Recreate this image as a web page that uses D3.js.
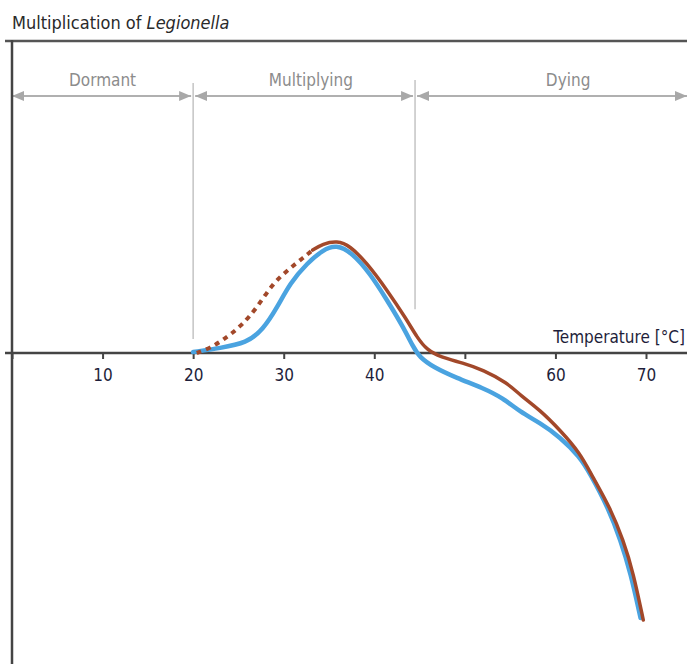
<!DOCTYPE html>
<meta charset="utf-8">

<head>
    <title>Multiplication of Legionella</title>
</head>

<style>
    body {
        margin: 0;
        background: #fff;
    }

    text {
        font-family: "DejaVu Sans Condensed", "Liberation Sans", sans-serif;
    }
</style>

<body>
    <div id="content">
        <svg width="687" height="664">
        </svg>
    </div>

    <script src="https://cdnjs.cloudflare.com/ajax/libs/d3/7.8.5/d3.min.js"></script>
    <script>
        var width = 687, height = 664

        // temperature ticks along the axis, the 50 label is left out in the original
        var tickValues = [0, 10, 20, 30, 40, 50, 60, 70]
        var tickLabels = ['', '10', '20', '30', '40', '', '60', '70']

        // phases: boundaries in °C, the names and where the names sit
        var phaseBounds = [0, 20, 44.5, 75]
        var phaseNames = ['Dormant', 'Multiplying', 'Dying']
        var phaseLabelT = [10, 33, 61.4]

        // blue curve (solid)
        var blueT = [20, 23, 25.9, 27.7, 29.3, 30.7, 32.6, 34.3, 35.8, 37.6, 39.5, 41.4, 43.2, 44.3, 45, 46.5, 49.1, 52, 54.2, 56.1, 58.3, 60.5, 62.7, 63.8, 65.8, 67.2, 68.3, 69.4]
        var blueV = [0.3, 1.6, 3.2, 7.4, 14.7, 22.4, 28.8, 33, 34.8, 32, 25.6, 17, 8.3, 1.9, -1.3, -4.5, -8, -11.2, -14.4, -18.9, -22.4, -26.9, -33.3, -38.5, -49.4, -60, -70.5, -84.9]

        // brown curve, dotted at the start
        var brownDotT = [20.4, 21.9, 23.3, 25.2, 27.1, 28.8, 30.7, 32.1, 33.2]
        var brownDotV = [0, 1.6, 4.2, 8.3, 14.7, 22.4, 27.2, 30.4, 33]
        var brownT = [33.2, 34.3, 35.9, 37.3, 39.2, 41.4, 43.6, 44.7, 45.8, 47.3, 49.8, 52, 54.7, 56.1, 58.3, 60.5, 62.7, 64.1, 66, 67.5, 68.6, 69.7]
        var brownV = [33, 35, 36, 34.4, 28.8, 20.2, 10.6, 5.1, 1, -1.3, -3.2, -5.4, -9.6, -13.5, -18.3, -24.7, -32, -39.7, -49.4, -60, -70.5, -85.6]

        var x = d3.scaleLinear().domain([0, 70]).range([12, 646])
        var y = d3.scaleLinear().domain([-100, 100]).range([665, 41])

        var svg = d3.select('svg')

        function pts(ts, vs) {
            return ts.map(function (t, i) { return [t, vs[i]] })
        }

        var line = d3.line()
            .x(function (d) { return x(d[0]) })
            .y(function (d) { return y(d[1]) })
            .curve(d3.curveBasis)

        // title
        var title = svg.append('text')
            .attr('x', 12).attr('y', 29)
            .attr('font-size', 18)
            .attr('fill', '#2a2a2a')
        title.append('tspan').text('Multiplication of ')
        title.append('tspan').attr('font-style', 'italic').text('Legionella')

        // phase separators
        svg.append('line')
            .attr('x1', x(20)).attr('x2', x(20))
            .attr('y1', 83).attr('y2', y(4.5))
            .attr('stroke', '#c4c4c4').attr('stroke-width', 1.5)
        svg.append('line')
            .attr('x1', x(44.5)).attr('x2', x(44.5))
            .attr('y1', 80).attr('y2', y(14))
            .attr('stroke', '#c4c4c4').attr('stroke-width', 1.5)

        // phase arrows
        var arrowY = 96
        svg.append('defs').append('marker')
            .attr('id', 'head')
            .attr('viewBox', '0 0 12 10')
            .attr('refX', 12).attr('refY', 5)
            .attr('markerWidth', 12).attr('markerHeight', 10)
            .attr('markerUnits', 'userSpaceOnUse')
            .attr('orient', 'auto-start-reverse')
            .append('path')
            .attr('d', 'M0,0L12,5L0,10Z')
            .attr('fill', '#a8a8a8')

        phaseNames.forEach(function (name, i) {
            var a = x(phaseBounds[i]) + (i == 0 ? 0 : 2)
            var b = Math.min(x(phaseBounds[i + 1]) - 2, width)
            svg.append('line')
                .attr('x1', a).attr('x2', b)
                .attr('y1', arrowY).attr('y2', arrowY)
                .attr('stroke', '#b0b0b0').attr('stroke-width', 2)
                .attr('marker-start', 'url(#head)')
                .attr('marker-end', 'url(#head)')
            svg.append('text')
                .attr('x', x(phaseLabelT[i])).attr('y', 86)
                .attr('text-anchor', 'middle')
                .attr('font-size', 17)
                .attr('fill', '#8c8c8c')
                .text(name)
        })

        // frame: top rule, y axis, x axis
        svg.append('line')
            .attr('x1', 5).attr('x2', width)
            .attr('y1', y(100)).attr('y2', y(100))
            .attr('stroke', '#555').attr('stroke-width', 2.5)
        svg.append('line')
            .attr('x1', x(0)).attr('x2', x(0))
            .attr('y1', 40).attr('y2', height)
            .attr('stroke', '#444').attr('stroke-width', 2.5)

        var xAxis = d3.axisBottom(x)
            .tickValues(tickValues)
            .tickSize(6)
            .tickPadding(10)
            .tickFormat(function (d, i) { return tickLabels[i] })

        var gx = svg.append('g')
            .attr('transform', 'translate(0,' + y(0) + ')')
            .call(xAxis)
        gx.select('.domain').remove()
        gx.selectAll('.tick line').attr('stroke', '#444').attr('stroke-width', 2)
        gx.selectAll('.tick text')
            .attr('font-size', 17)
            .attr('font-family', null)
            .attr('fill', '#1e1e3a')
        gx.append('line')
            .attr('x1', 5).attr('x2', width)
            .attr('y1', 0).attr('y2', 0)
            .attr('stroke', '#444').attr('stroke-width', 2.5)

        svg.append('text')
            .attr('x', 685).attr('y', 343)
            .attr('text-anchor', 'end')
            .attr('font-size', 17)
            .attr('fill', '#1e1e3a')
            .text('Temperature [°C]')

        // curves
        svg.append('path')
            .datum(pts(blueT, blueV))
            .attr('d', line)
            .attr('fill', 'none')
            .attr('stroke', '#4aa3e0')
            .attr('stroke-width', 4.5)
            .attr('stroke-linecap', 'round')

        svg.append('path')
            .datum(pts(brownDotT, brownDotV))
            .attr('d', line)
            .attr('fill', 'none')
            .attr('stroke', '#a2482a')
            .attr('stroke-width', 4)
            .attr('stroke-dasharray', '5,5')

        svg.append('path')
            .datum(pts(brownT, brownV))
            .attr('d', line)
            .attr('fill', 'none')
            .attr('stroke', '#a2482a')
            .attr('stroke-width', 3.5)
            .attr('stroke-linecap', 'round')
    </script>
</body>

</html>
